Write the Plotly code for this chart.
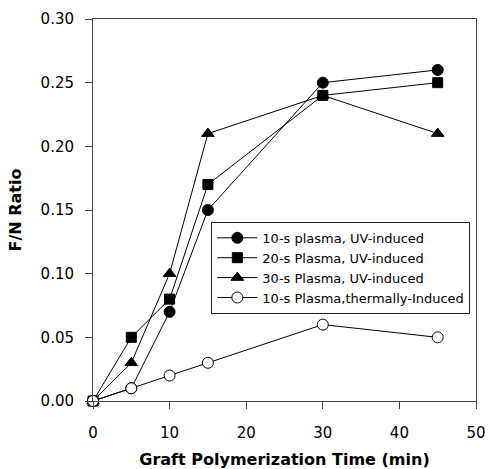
import plotly.graph_objects as go

time_min = [0, 5, 10, 15, 30, 45]
uv_10s = [0.0, 0.01, 0.07, 0.15, 0.25, 0.26]
uv_20s = [0.0, 0.05, 0.08, 0.17, 0.24, 0.25]
uv_30s = [0.0, 0.03, 0.10, 0.21, 0.24, 0.21]
thermal_10s = [0.0, 0.01, 0.02, 0.03, 0.06, 0.05]

names = ["10-s plasma, UV-induced", "20-s Plasma, UV-induced",
         "30-s Plasma, UV-induced", "10-s Plasma,thermally-Induced"]
x_ticks = [0, 10, 20, 30, 40, 50]
y_ticks = [0.00, 0.05, 0.10, 0.15, 0.20, 0.25, 0.30]

FONT = "DejaVu Sans, Arial, sans-serif"

fig = go.Figure()
series = [
    (uv_10s, "circle", "black", 11),
    (uv_20s, "square", "black", 10),
    (uv_30s, "triangle-up", "black", 11),
    (thermal_10s, "circle", "white", 11),
]
for (vals, sym, fill, size), nm in zip(series, names):
    fig.add_trace(go.Scatter(
        x=time_min, y=vals, name=nm, mode="lines+markers",
        line=dict(color="black", width=1),
        marker=dict(symbol=sym, size=size, color=fill,
                    line=dict(color="black", width=1)),
        cliponaxis=False,
    ))

fig.update_layout(
    width=490, height=469,
    margin=dict(l=93, r=14, t=19, b=68),
    paper_bgcolor="white", plot_bgcolor="white",
    font=dict(family=FONT, color="black"),
    showlegend=True,
    legend=dict(x=0.309, y=0.469, xanchor="left", yanchor="top",
                bordercolor="#222", borderwidth=1, bgcolor="white",
                font=dict(size=13), tracegroupgap=0, itemwidth=40),
)
fig.update_xaxes(
    range=[0, 50], tickvals=x_ticks, ticktext=[str(v) for v in x_ticks],
    ticks="outside", ticklen=7, tickcolor="#444", showgrid=False, zeroline=False,
    showline=True, linecolor="#444", linewidth=1, mirror=True, automargin=False,
    tickfont=dict(size=15), ticklabelstandoff=11,
    title=dict(text="<b>Graft Polymerization Time (min)</b>", font=dict(size=16), standoff=14),
)
fig.update_yaxes(
    range=[0, 0.30], tickvals=y_ticks, ticktext=[f"{v:.2f}" for v in y_ticks],
    ticks="outside", ticklen=7, tickcolor="#444", showgrid=False, zeroline=False,
    showline=True, linecolor="#444", linewidth=1, mirror=True, automargin=False,
    tickfont=dict(size=15), ticklabelstandoff=8,
    title=dict(text="<b>F/N Ratio</b>", font=dict(size=16), standoff=14),
)
fig.write_html("out.html")
